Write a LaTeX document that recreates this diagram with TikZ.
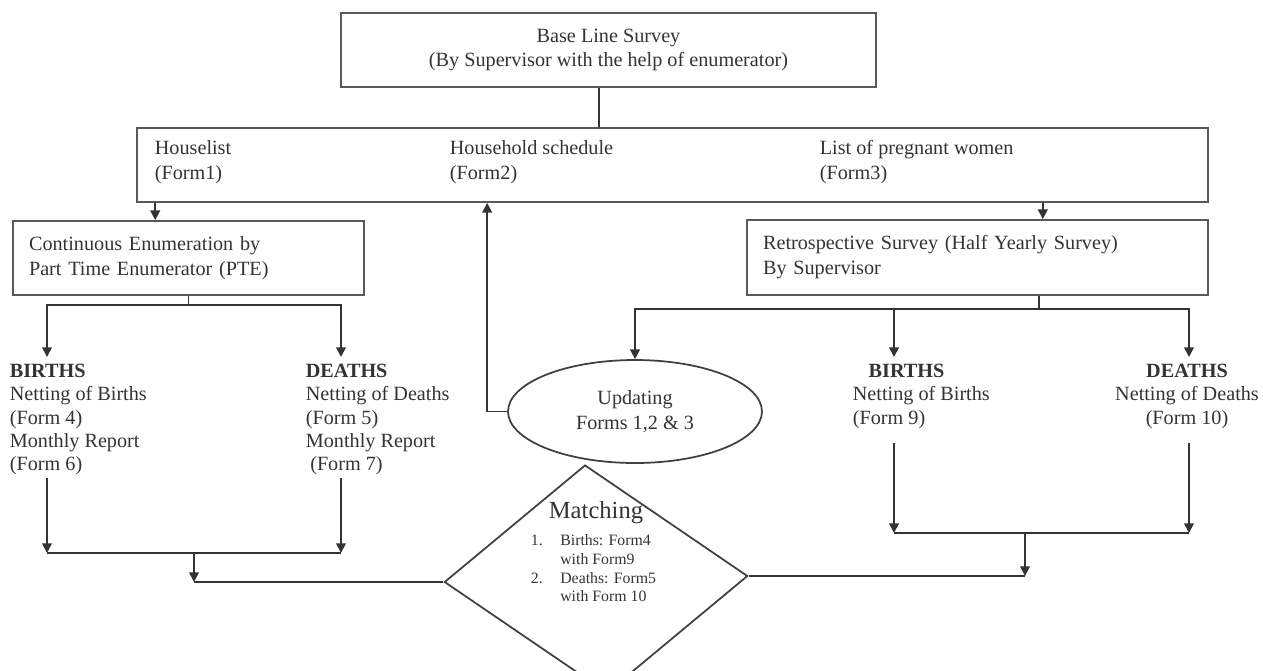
\documentclass[tikz,border=0pt]{standalone}
\usepackage{fontspec}
\setmainfont{Liberation Serif}
\usetikzlibrary{arrows.meta,shapes.geometric,positioning}

\begin{document}
\begin{tikzpicture}
[x=0.02cm, y=-0.02cm, line width=1pt,
font=\fontsize{11.5}{14.2}\selectfont,
box/.style={rectangle, draw=black!65, line width=1pt, inner sep=0pt, text=black!80},
txt/.style={align=left, inner sep=0pt, text=black!80},
col/.style={align=left, inner sep=0pt, text=black!80, font=\fontsize{11.5}{13.3}\selectfont},
line/.style={draw=black!80, line width=1pt},
arr/.style={line, -{Triangle[length=5.5pt,width=5.5pt]}}
]
\useasboundingbox (0,0) rectangle (1263,670);
\clip (0,0) rectangle (1263,670);

% survey and forms
\node[box, minimum width=10.7cm, minimum height=1.48cm, align=center] (base) at (608.5,50)
  {Base Line Survey\\(By Supervisor with the help of enumerator)};
\node[box, minimum width=21.42cm, minimum height=1.48cm] (forms) at (672.5,165) {};
\node[txt, anchor=west] (form1) at (154,162) {Houselist\\(Form1)};
\node[txt, anchor=west] (form2) at (449,162) {Household schedule\\(Form2)};
\node[txt, anchor=west] (form3) at (819,162) {List of pregnant women\\(Form3)};

\node[box, minimum width=7.02cm, minimum height=1.48cm, text width=6.38cm, align=left] (pte) at (188.5,258)
  {Continuous Enumeration by\\Part Time Enumerator (PTE)};
\node[box, minimum width=9.22cm, minimum height=1.5cm, text width=8.58cm, align=left] (retro) at (977.5,257.5)
  {Retrospective Survey (Half Yearly Survey)\\By Supervisor};

% births and deaths
\node[col, anchor=north west] (births) at (9,363)
  {\textbf{BIRTHS}\\Netting of Births\\(Form 4)\\Monthly Report\\(Form 6)};
\node[col, anchor=north west] (deaths) at (305,363)
  {\textbf{DEATHS}\\Netting of Deaths\\(Form 5)\\Monthly Report\\\hspace*{2.5pt}(Form 7)};
\node[col, anchor=north west] (birthsr) at (852,363)
  {\hspace*{9pt}\textbf{BIRTHS}\\Netting of Births\\(Form 9)};
\node[col, align=center, anchor=north] (deathsr) at (1187,363)
  {\textbf{DEATHS}\\Netting of Deaths\\(Form 10)};

\node[ellipse, draw=black!75, line width=1pt, minimum width=5.08cm, minimum height=2.06cm,
  inner sep=0pt, align=center, text=black!80] (upd) at (635,411.5) {Updating\\Forms 1,2 \& 3};

\begin{scope}[shift={(596,579)}, xslant=-0.0965, yslant=0.0197]
\node[diamond, draw=black!75, line width=1pt, minimum width=6.08cm, minimum height=4.56cm,
  inner sep=0pt, transform shape] (match) at (0,0) {};
\end{scope}
\node[text=black!80, inner sep=0pt, font=\fontsize{14}{16}\selectfont] (mtitle) at (596,513) {Matching};
\node[text=black!80, inner sep=0pt, anchor=north west, font=\fontsize{9}{10.6}\selectfont] (mlist) at (530,532)
  {\begin{tabular}{@{}l@{\hspace{10pt}}l@{}}
   1. & Births: Form4\\ & with Form9\\ 2. & Deaths: Form5\\ & with Form 10
   \end{tabular}};

% connectors
\draw[line] ([xshift=-0.19cm]base.south) -- ([xshift=-0.19cm]base.south |- forms.north);
\draw[arr] ([xshift=0.38cm]forms.south west) -- ([xshift=0.38cm]forms.south west |- pte.north);
\draw[arr] ([xshift=-3.32cm]forms.south east) -- ([xshift=-3.32cm]forms.south east |- retro.north);
\draw[arr] (upd.west) -| ([xshift=7.02cm]forms.south west);

\coordinate (pj) at (pte.south |- 0,305);
\coordinate (bt) at (47,357);
\coordinate (dt) at (341,357);
\draw[line] (pte.south) -- (pj);
\draw[arr] (pj) -| (bt);
\draw[arr] (pj) -| (dt);

\coordinate (bs) at (47,478);
\coordinate (ds) at (341,478);
\coordinate (lj) at (194,553);
\draw[arr] (bs) -- (bs |- lj);
\draw[arr] (ds) -- (ds |- lj);
\draw[line] (bs |- lj) -- (ds |- lj);
\draw[arr] (lj) -- (lj |- match.west);
\draw[line] (lj |- match.west) -- (match.west);

\coordinate (rj) at ([xshift=1.23cm]retro.south |- 0,309);
\coordinate (b9t) at (894,357);
\coordinate (d10t) at (1189,357);
\draw[line] ([xshift=1.23cm]retro.south) -- (rj);
\draw[arr] (rj) -| (upd.north);
\draw[arr] (rj) -| (b9t);
\draw[arr] (rj) -| (d10t);

\coordinate (b9s) at (894,443);
\coordinate (d10s) at (1189,443);
\coordinate (rk) at (1025,533);
\draw[arr] (b9s) -- (b9s |- rk);
\draw[arr] (d10s) -- (d10s |- rk);
\draw[line] (b9s |- rk) -- (d10s |- rk);
\draw[arr] (rk) -- (rk |- match.east);
\draw[line] (rk |- match.east) -- (match.east);
\end{tikzpicture}
\end{document}
